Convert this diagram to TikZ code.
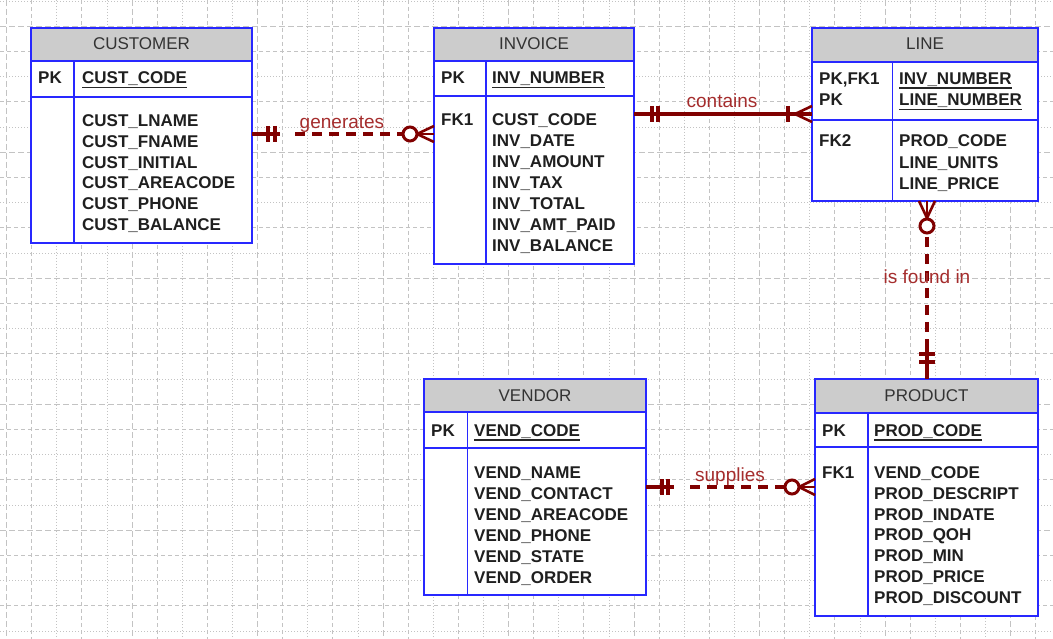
\documentclass[tikz,border=0pt]{standalone}
\usepackage{fontspec}
\setmainfont{Liberation Sans}
\usetikzlibrary{calc}
\definecolor{gridc}{RGB}{195,195,195}
\definecolor{tblue}{RGB}{40,40,255}
\definecolor{hdrgray}{RGB}{204,204,204}
\definecolor{relred}{RGB}{128,0,0}
\definecolor{lblred}{RGB}{165,45,45}
\begin{document}
\begin{tikzpicture}[x=1pt,y=-1pt,
 ent/.style={draw=none, fill=white, anchor=north west, inner sep=0pt, outer sep=0pt},
 border/.style={draw=tblue, line width=1.8pt},
 sepl/.style={draw=tblue, line width=1.6pt},
 htext/.style={font=\fontsize{17}{20}\selectfont, text=black!80, anchor=base, inner sep=0pt},
 att/.style={font=\fontsize{17}{20}\selectfont\bfseries, text=black!88, anchor=base west, inner sep=0pt},
 ul/.style={draw=black!85, line width=1.3pt},
 rel/.style={draw=relred, line width=3.4pt},
 reld/.style={rel, dash pattern=on 10pt off 7pt},
 crow/.style={draw=relred, line width=2.6pt},
 lbl/.style={font=\fontsize{19}{22}\selectfont, text=lblred, inner sep=0pt, anchor=base},
 gmin/.style={draw=gridc, line width=0.9pt, dash pattern=on 1.2pt off 1.8pt},
 gdash/.style={draw=gridc, line width=1pt, dash pattern=on 4pt off 3pt},
 gmaj/.style={draw=gridc, line width=1.2pt, dash pattern=on 6pt off 3pt},
]
\useasboundingbox (0,0) rectangle (1053,639);
\fill[white] (0,0) rectangle (1053,639);
% grid
\foreach \j in {0,...,41} {
  \pgfmathtruncatemacro\m{mod(\j,5)}
  \pgfmathsetmacro\xx{6.6+25.1*\j}
  \ifcase\m \draw[gmaj] (\xx,0) -- (\xx,639);
  \or \draw[gdash] (\xx,0) -- (\xx,639);
  \or \draw[gmin] (\xx,0) -- (\xx,639);
  \or \draw[gdash] (\xx,0) -- (\xx,639);
  \or \draw[gmin] (\xx,0) -- (\xx,639);
  \fi
}
\foreach \k in {0,...,25} {
  \pgfmathtruncatemacro\m{mod(\k,5)}
  \pgfmathsetmacro\yy{1+25.2*\k}
  \ifcase\m \draw[gmin] (0,\yy) -- (1053,\yy);
  \or \draw[gmaj] (0,\yy) -- (1053,\yy);
  \or \draw[gdash] (0,\yy) -- (1053,\yy);
  \or \draw[gmin] (0,\yy) -- (1053,\yy);
  \or \draw[gdash] (0,\yy) -- (1053,\yy);
  \fi
}

% ---------- CUSTOMER ----------
\node[ent, minimum width=221pt, minimum height=215pt] (cust) at (31,28) {};
\fill[hdrgray] (31,28) rectangle (252,61);
\draw[sepl] (31,61) -- (252,61);
\draw[sepl] (31,97) -- (252,97);
\draw[sepl] (74,61) -- (74,243);
\draw[border] (cust.north west) rectangle (cust.south east);
\node[htext] (custh) at (141.5,50) {CUSTOMER};
\node[att] (custpk) at (38,84) {PK};
\node[att] (custk) at (82,84) {CUST\_CODE};
\draw[ul] ([yshift=-3.5pt]custk.base west) -- ([yshift=-3.5pt]custk.base east);
\foreach \t [count=\i from 0] in {CUST\_LNAME,CUST\_FNAME,CUST\_INITIAL,CUST\_AREACODE,CUST\_PHONE,CUST\_BALANCE}
  \node[att] (custa\i) at (82,{126.5+20.8*\i}) {\t};

% ---------- INVOICE ----------
\node[ent, minimum width=200pt, minimum height=236pt] (inv) at (434,28) {};
\fill[hdrgray] (434,28) rectangle (634,61);
\draw[sepl] (434,61) -- (634,61);
\draw[sepl] (434,96) -- (634,96);
\draw[sepl] (486,61) -- (486,264);
\draw[border] (inv.north west) rectangle (inv.south east);
\node[htext] (invh) at (534,49.5) {INVOICE};
\node[att] (invpk) at (441,84) {PK};
\node[att] (invk) at (492,84) {INV\_NUMBER};
\draw[ul] ([yshift=-3.5pt]invk.base west) -- ([yshift=-3.5pt]invk.base east);
\node[att] (invfk) at (441,126) {FK1};
\foreach \t [count=\i from 0] in {CUST\_CODE,INV\_DATE,INV\_AMOUNT,INV\_TAX,INV\_TOTAL,INV\_AMT\_PAID,INV\_BALANCE}
  \node[att] (inva\i) at (492,{126+20.95*\i}) {\t};

% ---------- LINE ----------
\node[ent, minimum width=226pt, minimum height=173pt] (line) at (812,28) {};
\fill[hdrgray] (812,28) rectangle (1038,62);
\draw[sepl] (812,62) -- (1038,62);
\draw[sepl] (812,120) -- (1038,120);
\draw[sepl] (892.5,62) -- (892.5,201);
\draw[border] (line.north west) rectangle (line.south east);
\node[htext] (lineh) at (925,50) {LINE};
\node[att] (linepk1) at (819,84.5) {PK,FK1};
\node[att] (linepk2) at (819,106) {PK};
\node[att] (linek1) at (899,84.5) {INV\_NUMBER};
\node[att] (linek2) at (899,106) {LINE\_NUMBER};
\draw[ul] ([yshift=-3.5pt]linek1.base west) -- ([yshift=-3.5pt]linek1.base east);
\draw[ul] ([yshift=-3.5pt]linek2.base west) -- ([yshift=-3.5pt]linek2.base east);
\node[att] (linefk) at (819,147) {FK2};
\foreach \t [count=\i from 0] in {PROD\_CODE,LINE\_UNITS,LINE\_PRICE}
  \node[att] (linea\i) at (899,{147+21.4*\i}) {\t};

% ---------- VENDOR ----------
\node[ent, minimum width=222pt, minimum height=216pt] (vend) at (424,379) {};
\fill[hdrgray] (424,379) rectangle (646,412);
\draw[sepl] (424,412) -- (646,412);
\draw[sepl] (424,448) -- (646,448);
\draw[sepl] (467.5,412) -- (467.5,595);
\draw[border] (vend.north west) rectangle (vend.south east);
\node[htext] (vendh) at (535,401.5) {VENDOR};
\node[att] (vendpk) at (431,436.5) {PK};
\node[att] (vendk) at (474,436.5) {VEND\_CODE};
\draw[ul] ([yshift=-3.5pt]vendk.base west) -- ([yshift=-3.5pt]vendk.base east);
\foreach \t [count=\i from 0] in {VEND\_NAME,VEND\_CONTACT,VEND\_AREACODE,VEND\_PHONE,VEND\_STATE,VEND\_ORDER}
  \node[att] (venda\i) at (474,{478.3+21*\i}) {\t};

% ---------- PRODUCT ----------
\node[ent, minimum width=223pt, minimum height=237pt] (prod) at (815,379) {};
\fill[hdrgray] (815,379) rectangle (1038,413);
\draw[sepl] (815,413) -- (1038,413);
\draw[sepl] (815,447) -- (1038,447);
\draw[sepl] (868,413) -- (868,616);
\draw[border] (prod.north west) rectangle (prod.south east);
\node[htext] (prodh) at (926.5,401.5) {PRODUCT};
\node[att] (prodpk) at (822,436.5) {PK};
\node[att] (prodk) at (874,436.5) {PROD\_CODE};
\draw[ul] ([yshift=-3.5pt]prodk.base west) -- ([yshift=-3.5pt]prodk.base east);
\node[att] (prodfk) at (822,478.3) {FK1};
\foreach \t [count=\i from 0] in {VEND\_CODE,PROD\_DESCRIPT,PROD\_INDATE,PROD\_QOH,PROD\_MIN,PROD\_PRICE,PROD\_DISCOUNT}
  \node[att] (proda\i) at (874,{478.3+20.85*\i}) {\t};

% ---------- generates ----------
\coordinate (g0) at ([yshift=-106pt]cust.north east);
\coordinate (g1) at ([yshift=-106pt]inv.north west);
\draw[rel] (g0) -- ($(g0)+(28,0)$);
\draw[rel] ($(g0)+(16,-8)$) -- ($(g0)+(16,8)$);
\draw[rel] ($(g0)+(23,-8)$) -- ($(g0)+(23,8)$);
\draw[reld] ($(g0)+(43,0)$) -- ($(g1)+(-31,0)$);
\draw[crow] ($(g1)+(-17,0)$) -- (g1);
\draw[crow] ($(g1)+(-17,0)$) -- ($(g1)+(0,-8)$);
\draw[crow] ($(g1)+(-17,0)$) -- ($(g1)+(0,8)$);
\draw[crow, line width=3pt, fill=white] ($(g1)+(-24,0)$) circle (7pt);
\node[lbl] (glbl) at (342,129) {generates};

% ---------- contains ----------
\coordinate (c0) at ([yshift=-86pt]inv.north east);
\coordinate (c1) at ([yshift=-86pt]line.north west);
\draw[rel] (c0) -- (c1);
\draw[rel] ($(c0)+(18,-8)$) -- ($(c0)+(18,8)$);
\draw[rel] ($(c0)+(24,-8)$) -- ($(c0)+(24,8)$);
\draw[rel] ($(c1)+(-24,-8)$) -- ($(c1)+(-24,8)$);
\draw[crow] ($(c1)+(-17,0)$) -- ($(c1)+(0,-8)$);
\draw[crow] ($(c1)+(-17,0)$) -- ($(c1)+(0,8)$);
\node[lbl] (clbl) at (722,108) {contains};

% ---------- is found in ----------
\coordinate (f0) at ([xshift=115pt]line.south west);
\coordinate (f1) at ([xshift=112pt]prod.north west);
\draw[crow] ($(f0)+(0,17)$) -- (f0);
\draw[crow] ($(f0)+(0,17)$) -- ($(f0)+(-8,0)$);
\draw[crow] ($(f0)+(0,17)$) -- ($(f0)+(8,0)$);
\draw[crow, line width=3pt, fill=white] ($(f0)+(0,25)$) circle (7pt);
\draw[reld] ($(f0)+(0,36)$) -- ($(f1)+(0,-38)$);
\draw[rel] ($(f1)+(0,-38)$) -- (f1);
\draw[rel] ($(f1)+(-8,-25)$) -- ($(f1)+(8,-25)$);
\draw[rel] ($(f1)+(-8,-17)$) -- ($(f1)+(8,-17)$);
\node[lbl] (flbl) at (927,284) {is found in};

% ---------- supplies ----------
\coordinate (s0) at ([yshift=-108pt]vend.north east);
\coordinate (s1) at ([yshift=-108pt]prod.north west);
\draw[rel] (s0) -- ($(s0)+(28,0)$);
\draw[rel] ($(s0)+(16,-8)$) -- ($(s0)+(16,8)$);
\draw[rel] ($(s0)+(22,-8)$) -- ($(s0)+(22,8)$);
\draw[reld] ($(s0)+(44,0)$) -- ($(s1)+(-30,0)$);
\draw[crow] ($(s1)+(-16,0)$) -- (s1);
\draw[crow] ($(s1)+(-16,0)$) -- ($(s1)+(0,-8)$);
\draw[crow] ($(s1)+(-16,0)$) -- ($(s1)+(0,8)$);
\draw[crow, line width=3pt, fill=white] ($(s1)+(-23,0)$) circle (7pt);
\node[lbl] (slbl) at (730,481) {supplies};
\end{tikzpicture}
\end{document}
